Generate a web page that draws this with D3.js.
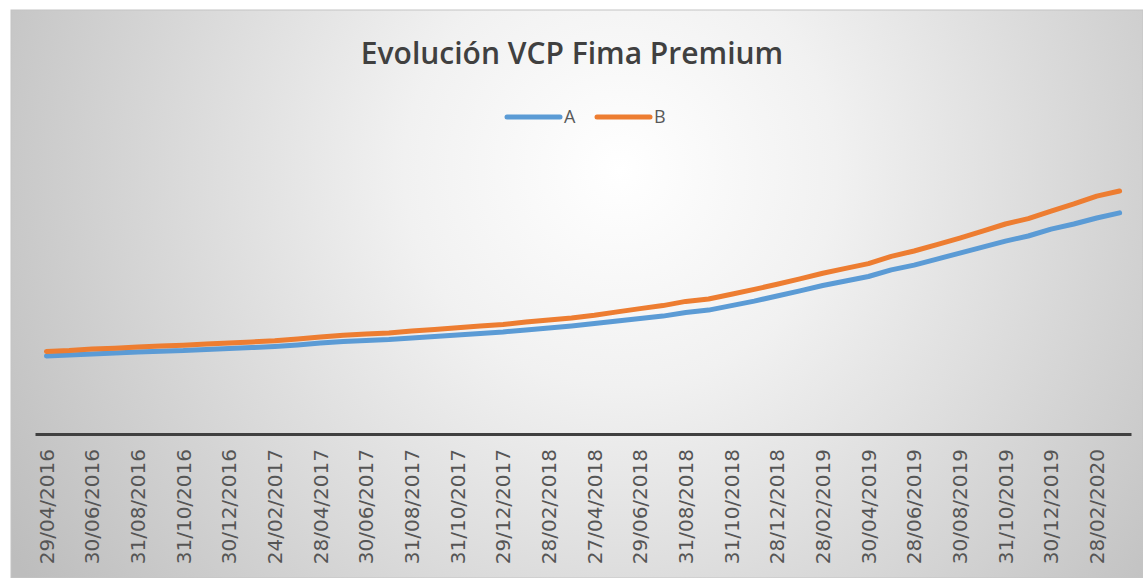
<!DOCTYPE html>
<html>
<head>
<meta charset="utf-8">
<script src="https://cdn.jsdelivr.net/npm/d3@7"></script>
<style>
  body { margin: 0; background: #ffffff; }
</style>
</head>
<body>
<script>
// monthly dates (category axis)
var dates = [
  "29/04/2016", "31/05/2016", "30/06/2016", "29/07/2016", "31/08/2016", "30/09/2016",
  "31/10/2016", "30/11/2016", "30/12/2016", "31/01/2017", "24/02/2017", "31/03/2017",
  "28/04/2017", "31/05/2017", "30/06/2017", "31/07/2017", "31/08/2017", "29/09/2017",
  "31/10/2017", "30/11/2017", "29/12/2017", "31/01/2018", "28/02/2018", "29/03/2018",
  "27/04/2018", "31/05/2018", "29/06/2018", "31/07/2018", "31/08/2018", "28/09/2018",
  "31/10/2018", "30/11/2018", "28/12/2018", "31/01/2019", "28/02/2019", "29/03/2019",
  "30/04/2019", "31/05/2019", "28/06/2019", "31/07/2019", "30/08/2019", "30/09/2019",
  "31/10/2019", "29/11/2019", "30/12/2019", "31/01/2020", "28/02/2020", "31/03/2020"
];

var seriesA = [
  2.60, 2.63, 2.67, 2.70, 2.73, 2.76, 2.78, 2.82, 2.85, 2.88, 2.92, 2.97,
  3.03, 3.08, 3.12, 3.15, 3.20, 3.25, 3.30, 3.35, 3.40, 3.47, 3.53, 3.60,
  3.68, 3.77, 3.85, 3.93, 4.05, 4.13, 4.28, 4.43, 4.60, 4.77, 4.95, 5.10,
  5.25, 5.47, 5.63, 5.83, 6.03, 6.23, 6.43, 6.60, 6.83, 7.00, 7.20, 7.37
];

var seriesB = [
  2.75, 2.78, 2.83, 2.86, 2.90, 2.93, 2.96, 3.00, 3.03, 3.07, 3.11, 3.17,
  3.23, 3.29, 3.33, 3.37, 3.43, 3.48, 3.54, 3.60, 3.65, 3.73, 3.80, 3.87,
  3.96, 4.07, 4.18, 4.28, 4.42, 4.50, 4.66, 4.82, 4.99, 5.17, 5.36, 5.52,
  5.68, 5.92, 6.10, 6.31, 6.53, 6.76, 7.00, 7.18, 7.43, 7.67, 7.93, 8.10
];

var seriesNames = ["A", "B"];
var seriesColors = ["#5b9bd5", "#ed7d31"];

var width = 1143,
    height = 578;

var svg = d3.select("body")
  .append("svg")
  .attr("width", width)
  .attr("height", height)

// chart area background (radial gradient like the excel preset)
var defs = svg.append("defs")
var grad = defs.append("radialGradient")
  .attr("id", "bg")
  .attr("gradientUnits", "userSpaceOnUse")
  .attr("cx", 620)
  .attr("cy", 170)
  .attr("r", 720)
grad.append("stop").attr("offset", "0").attr("stop-color", "#ffffff")
grad.append("stop").attr("offset", "0.3").attr("stop-color", "#f1f1f1")
grad.append("stop").attr("offset", "1").attr("stop-color", "#bdbdbd")

svg.append("rect")
  .attr("x", 11)
  .attr("y", 10)
  .attr("width", width - 11)
  .attr("height", height - 10)
  .attr("fill", "url(#bg)")
  .attr("stroke", "#c4c4c4")
  .attr("stroke-width", 1)

var plotLeft = 35,
    plotRight = 1131,
    axisY = 434;

var x = d3.scaleBand()
  .domain(dates)
  .range([plotLeft, plotRight])

// hidden value axis
var y = d3.scaleLinear()
  .domain([0, 10])
  .range([axisY, 134])

// title
svg.append("text")
  .attr("x", 572)
  .attr("y", 64)
  .attr("text-anchor", "middle")
  .style("font-family", "'Open Sans', sans-serif")
  .style("font-size", "30px")
  .style("font-weight", "600")
  .style("fill", "#404040")
  .text("Evolución VCP Fima Premium")

// x axis
var xAxis = d3.axisBottom(x)
  .tickValues(dates.filter(function(d, i) { return i % 2 == 0; }))
  .tickSize(0)
  .tickPadding(0)

var gx = svg.append("g")
  .attr("transform", `translate(0 ${axisY})`)
  .call(xAxis)

gx.select(".domain")
  .attr("stroke", "#404040")
  .attr("stroke-width", 3)

gx.selectAll("text")
  .attr("transform", "rotate(-90)")
  .attr("x", -15)
  .attr("y", 0)
  .attr("dy", "0.36em")
  .attr("text-anchor", "end")
  .style("font-family", "'DejaVu Sans', sans-serif")
  .style("font-size", "20px")
  .style("fill", "#555555")

// lines
var line = d3.line()
  .x(function(d, i) { return x(dates[i]) + x.bandwidth() / 2; })
  .y(function(d) { return y(d); })

var allSeries = [seriesA, seriesB];

svg.selectAll(".series")
  .data(allSeries)
  .enter().append("path")
  .attr("class", "series")
  .attr("d", line)
  .attr("fill", "none")
  .attr("stroke", function(d, i) { return seriesColors[i]; })
  .attr("stroke-width", 5)
  .attr("stroke-linejoin", "round")
  .attr("stroke-linecap", "round")

// legend
var legend = svg.append("g")
  .attr("transform", "translate(507 117)")

var item = legend.selectAll(".item")
  .data(seriesNames)
  .enter().append("g")
  .attr("class", "item")
  .attr("transform", function(d, i) { return `translate(${i * 90} 0)`; })

item.append("line")
  .attr("x1", 0)
  .attr("x2", 53)
  .attr("stroke", function(d, i) { return seriesColors[i]; })
  .attr("stroke-width", 5)
  .attr("stroke-linecap", "round")

item.append("text")
  .attr("x", 57)
  .attr("dy", "0.35em")
  .style("font-family", "'Open Sans', sans-serif")
  .style("font-size", "18px")
  .style("fill", "#595959")
  .text(function(d) { return d; })
</script>
</body>
</html>
